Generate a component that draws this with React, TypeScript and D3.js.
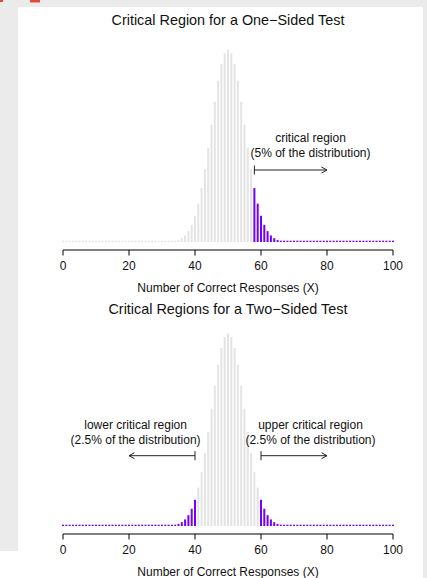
import * as d3 from "d3";
import React from "react";

// P(X = k) for k = 0..100 (100 trials, chance = 0.5)
const probs = [
  0, 0, 0, 0, 0, 0, 0, 0, 0, 0,
  0, 0, 0, 0, 0, 0, 0, 0, 0, 0,
  0, 0, 0, 0, 0, 0, 0.000001, 0.000002, 0.000004, 0.00001,
  0.0000232, 0.0000522, 0.000113, 0.000232, 0.000458, 0.000864, 0.00157, 0.00271, 0.00448, 0.00711,
  0.01084, 0.01587, 0.02229, 0.03007, 0.03895, 0.04847, 0.05796, 0.06659, 0.07353, 0.07802,
  0.07959,
  0.07802, 0.07353, 0.06659, 0.05796, 0.04847, 0.03895, 0.03007, 0.02229, 0.01587, 0.01084,
  0.00711, 0.00448, 0.00271, 0.00157, 0.000864, 0.000458, 0.000232, 0.000113, 0.0000522, 0.0000232,
  0.00001, 0.000004, 0.000002, 0.000001, 0, 0, 0, 0, 0, 0,
  0, 0, 0, 0, 0, 0, 0, 0, 0, 0,
  0, 0, 0, 0, 0, 0, 0, 0, 0, 0,
];
const tickValues = [0, 20, 40, 60, 80, 100];
const oneSidedCut = 58;
const twoSidedLow = 40;
const twoSidedHigh = 60;

const W = 427;
const H = 578;
const GREY = "#e4e4e4";
const PURPLE = "#7300ff";
const FONT = "'Liberation Sans', Arial, Helvetica, sans-serif";

const x = d3.scaleLinear().domain([0, 100]).range([63, 393]);

// one arrow: flat bar at `from`, open head at `to`
const Arrow = ({ from, to, y }: { from: number; to: number; y: number }) => {
  const x0 = x(from);
  const x1 = x(to);
  const dir = x1 > x0 ? 1 : -1;
  return (
    <g stroke="#222" strokeWidth={1} fill="none">
      <line x1={x0} x2={x1} y1={y} y2={y} />
      <line x1={x0} x2={x0} y1={y - 4.5} y2={y + 4.5} />
      <path d={`M${x1 - dir * 5.5},${y - 3} L${x1},${y} L${x1 - dir * 5.5},${y + 3}`} />
    </g>
  );
};

const Panel = ({
  top,
  title,
  titleY,
  isCritical,
  children,
}: {
  top: number;
  title: string;
  titleY: number;
  isCritical: (k: number) => boolean;
  children?: React.ReactNode;
}) => {
  const base = top + 242;
  const y = d3.scaleLinear().domain([0, 0.08]).range([base, base - 0.08 * 2420]);
  const axisY = top + 250;
  return (
    <g fontFamily={FONT}>
      <text x={228} y={titleY} dy="0.35em" textAnchor="middle" fontSize={14.4} fill="#111">
        {title}
      </text>
      {probs.map((p, k) => {
        const h = Math.max(base - y(p), 1.3);
        return (
          <rect
            key={k}
            x={x(k) - 1}
            y={base - h}
            width={2}
            height={h}
            fill={isCritical(k) ? PURPLE : GREY}
          />
        );
      })}
      <line x1={x(0)} x2={x(100)} y1={axisY} y2={axisY} stroke="#000" strokeWidth={1} />
      {tickValues.map((t) => (
        <g key={t}>
          <line x1={x(t)} x2={x(t)} y1={axisY} y2={axisY + 5.5} stroke="#000" strokeWidth={1} />
          <text x={x(t)} y={top + 266} dy="0.35em" textAnchor="middle" fontSize={12} fill="#111">
            {t}
          </text>
        </g>
      ))}
      <text x={228} y={top + 288} dy="0.35em" textAnchor="middle" fontSize={12} fill="#111">
        Number of Correct Responses (X)
      </text>
      {children}
    </g>
  );
};

export default function App() {
  const off = 284;
  return (
    <div style={{ position: "fixed", left: 0, top: 0, width: W, height: H }}>
      <svg width={W} height={H} style={{ display: "block" }}>
        <rect width={W} height={H} fill="#ebebeb" />
        <rect x={18} y={7} width={405} height={H - 7} fill="#fff" />
        <rect x={0} y={551} width={18} height={H - 551} fill="#fff" />
        <rect x={0} y={0} width={3} height={2} fill="#e04a3a" />
        <rect x={30} y={0} width={10} height={2.5} fill="#e04a3a" />

        <Panel
          top={0}
          title="Critical Region for a One−Sided Test"
          titleY={20}
          isCritical={(k) => k >= oneSidedCut}
        >
          <g fontFamily={FONT} fontSize={12} fill="#111" textAnchor="middle">
            <text x={x(75)} y={138} dy="0.35em">critical region</text>
            <text x={x(75)} y={153} dy="0.35em">(5% of the distribution)</text>
          </g>
          <Arrow from={oneSidedCut} to={80} y={170} />
        </Panel>

        <Panel
          top={off}
          title="Critical Regions for a Two−Sided Test"
          titleY={308.5}
          isCritical={(k) => k <= twoSidedLow || k >= twoSidedHigh}
        >
          <g fontFamily={FONT} fontSize={12} fill="#111" textAnchor="middle">
            <text x={x(22)} y={425} dy="0.35em">lower critical region</text>
            <text x={x(22)} y={439.5} dy="0.35em">(2.5% of the distribution)</text>
            <text x={x(75)} y={425} dy="0.35em">upper critical region</text>
            <text x={x(75)} y={439.5} dy="0.35em">(2.5% of the distribution)</text>
          </g>
          <Arrow from={twoSidedLow} to={20} y={455.7} />
          <Arrow from={twoSidedHigh} to={80} y={455.7} />
        </Panel>
      </svg>
    </div>
  );
}
